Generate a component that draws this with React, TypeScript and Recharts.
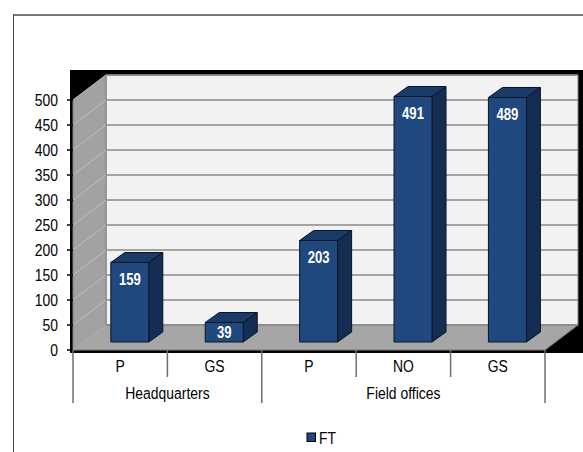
import React from "react";
import {
    BarChart,
    Bar,
    XAxis,
    YAxis,
    ReferenceArea,
    ReferenceLine,
    LabelList,
} from "recharts";

// full-time staff by grade
const grades = ["P", "GS", "P", "NO", "GS"];
const ftStaff = [159, 39, 203, 491, 489];
const locationGroups = [
    { name: "Headquarters", size: 2 },
    { name: "Field offices", size: 3 },
];
const yTicks = [0, 50, 100, 150, 200, 250, 300, 350, 400, 450, 500];
const seriesName = "FT";

const data = grades.map((grade, i) => ({ grade, ft: ftStaff[i] }));

const W = 583;
const H = 452;
const margin = { top: 100, right: 38, bottom: 42, left: 0 };
const Y_AXIS_W = 73;
const X_AXIS_H = 60;

// the back wall sits this far right / up from the axis plane
const DEPTH_X = 33;
const DEPTH_Y = 25;
// bars stand a little way into the box, with their own depth
const BAR_SHIFT_X = 9.5;
const BAR_SHIFT_Y = 8;
const BAR_DX = 14;
const BAR_DY = 10;

const FONT = '"Liberation Sans", Arial, sans-serif';
const NARROW = 0.82;

const BAR_FRONT = "#1f497e";
const BAR_SIDE = "#142d52";
const BAR_TOP = "#1a3b68";

function NarrowText({
                        x,
                        y,
                        children,
                        anchor = "middle",
                        size = 17,
                        bold = false,
                        fill = "#000",
                    }: any) {
    return (
        <text
            transform={`translate(${x},${y}) scale(${NARROW},1)`}
            textAnchor={anchor}
            dy="0.36em"
            fontFamily={FONT}
            fontSize={size}
            fontWeight={bold ? 700 : 400}
            fill={fill}
        >
            {children}
        </text>
    );
}

// black frame, back wall, side wall and floor of the 3d box
function Box3D(props: any) {
    const { x, y, width, height } = props;
    const bx = x + DEPTH_X;
    const by = y - DEPTH_Y;
    const floorY = y + height;
    const backFloorY = by + height;
    return (
        <g>
            <rect
                x={x - 3}
                y={by - 5}
                width={width + DEPTH_X + 8}
                height={height + DEPTH_Y + 8}
                fill="#000"
            />
            <rect x={bx} y={by} width={width} height={height} fill="#f2f2f2" stroke="#7f7f7f" />
            <polygon
                points={`${x},${y} ${bx},${by} ${bx},${backFloorY} ${x},${floorY}`}
                fill="#a2a2a2"
                stroke="#7f7f7f"
            />
            <polygon
                points={`${x},${floorY} ${bx},${backFloorY} ${bx + width},${backFloorY} ${x + width},${floorY}`}
                fill="#a6a6a6"
                stroke="#7f7f7f"
            />
        </g>
    );
}

// one gridline: diagonal across the side wall, then flat along the back wall
function WallGridLine(props: any) {
    const { x1, y1, x2 } = props;
    if (x1 == null || y1 == null) return null;
    return (
        <g>
            <line
                x1={x1}
                y1={y1}
                x2={x1 + DEPTH_X}
                y2={y1 - DEPTH_Y}
                stroke="#bdbdbd"
                strokeWidth={1}
            />
            <line
                x1={x1 + DEPTH_X}
                y1={y1 - DEPTH_Y}
                x2={x2 + DEPTH_X}
                y2={y1 - DEPTH_Y}
                stroke="#8a8a8a"
                strokeWidth={1.5}
            />
        </g>
    );
}

function Bar3D(props: any) {
    const { x, y, width, height } = props;
    if (!height) return null;
    const fx = x + BAR_SHIFT_X;
    const fy = y - BAR_SHIFT_Y;
    const r = fx + width;
    const b = fy + height;
    return (
        <g stroke="#0a1627" strokeWidth={1} strokeLinejoin="round">
            <polygon
                points={`${fx},${fy} ${fx + BAR_DX},${fy - BAR_DY} ${r + BAR_DX},${fy - BAR_DY} ${r},${fy}`}
                fill={BAR_TOP}
            />
            <polygon
                points={`${r},${fy} ${r + BAR_DX},${fy - BAR_DY} ${r + BAR_DX},${b - BAR_DY} ${r},${b}`}
                fill={BAR_SIDE}
            />
            <rect x={fx} y={fy} width={width} height={height} fill={BAR_FRONT} />
        </g>
    );
}

function ValueLabel(props: any) {
    const box = props.viewBox && props.viewBox.width != null ? props.viewBox : props;
    const { x, y, width, height } = box;
    if (x == null) return null;
    const cx = x + BAR_SHIFT_X + width / 2;
    const cy = y - BAR_SHIFT_Y + Math.min(17, Math.abs(height) / 2);
    return (
        <NarrowText x={cx} y={cy} size={16} bold fill="#fff">
            {props.value}
        </NarrowText>
    );
}

function YTick(props: any) {
    const { x, y, payload } = props;
    return (
        <NarrowText x={x} y={y} anchor="end" size={17}>
            {payload.value}
        </NarrowText>
    );
}

// grade label plus a second row with the location group
function CategoryTick(props: any) {
    const { x, y, payload } = props;
    const index = props.index ?? payload.index;
    const plotW = W - margin.right - margin.left - Y_AXIS_W;
    const half = payload.offset > 0 ? payload.offset : plotW / grades.length / 2;
    const left = x - half;

    let start = 0;
    let opens: { name: string; size: number } | null = null;
    for (const g of locationGroups) {
        if (index === start) opens = g;
        start += g.size;
    }
    const isLast = index === grades.length - 1;

    return (
        <g>
            <line
                x1={left}
                y1={y}
                x2={left}
                y2={opens ? y + 53 : y + 27}
                stroke="#6f6f6f"
                strokeWidth={1.5}
            />
            {isLast ? (
                <line
                    x1={x + half}
                    y1={y}
                    x2={x + half}
                    y2={y + 53}
                    stroke="#6f6f6f"
                    strokeWidth={1.5}
                />
            ) : null}
            <NarrowText x={x} y={y + 15.5} size={17}>
                {payload.value}
            </NarrowText>
            {opens ? (
                <NarrowText x={left + opens.size * half} y={y + 42.5} size={17}>
                    {opens.name}
                </NarrowText>
            ) : null}
        </g>
    );
}

export default function App() {
    const layer: React.CSSProperties = { position: "absolute", left: 0, top: 0 };
    return (
        <div
            style={{
                position: "absolute",
                left: 0,
                top: 0,
                width: W,
                height: H,
                background: "#fff",
                overflow: "hidden",
            }}
        >
            <svg width={W} height={H} style={layer}>
                <line x1={13} y1={15} x2={W} y2={15} stroke="#777" strokeWidth={2} />
                <line x1={13.5} y1={15} x2={13.5} y2={H} stroke="#444" strokeWidth={1} />
            </svg>

            {/* walls and gridlines */}
            <div style={layer}>
                <BarChart width={W} height={H} data={data} margin={margin}>
                    <XAxis
                        dataKey="grade"
                        height={X_AXIS_H}
                        tick={false}
                        axisLine={false}
                        tickLine={false}
                    />
                    <YAxis
                        type="number"
                        domain={[0, 500]}
                        ticks={yTicks}
                        allowDataOverflow
                        width={Y_AXIS_W}
                        tick={false}
                        axisLine={false}
                        tickLine={false}
                    />
                    <ReferenceArea y1={0} y2={500} shape={Box3D} fillOpacity={1} />
                    {yTicks.map((v) => (
                        <ReferenceLine key={v} y={v} shape={WallGridLine} />
                    ))}
                </BarChart>
            </div>

            {/* bars, labels and axes */}
            <div style={layer}>
                <BarChart
                    width={W}
                    height={H}
                    data={data}
                    margin={margin}
                    barCategoryGap="30%"
                >
                    <XAxis
                        dataKey="grade"
                        height={X_AXIS_H}
                        interval={0}
                        axisLine={false}
                        tickLine={false}
                        tickSize={0}
                        tickMargin={0}
                        tick={<CategoryTick />}
                    />
                    <YAxis
                        type="number"
                        domain={[0, 500]}
                        ticks={yTicks}
                        width={Y_AXIS_W}
                        axisLine={false}
                        tickLine={{ stroke: "#000", strokeWidth: 1.5 }}
                        tickSize={6}
                        tickMargin={9}
                        tick={<YTick />}
                    />
                    <Bar dataKey="ft" name={seriesName} shape={Bar3D} isAnimationActive={false}>
                        <LabelList dataKey="ft" content={ValueLabel} />
                    </Bar>
                </BarChart>
            </div>

            <svg width={W} height={H} style={{ ...layer, pointerEvents: "none" }}>
                <rect x={307} y={433} width={8.5} height={8.5} fill={BAR_FRONT} stroke="#000" />
                <NarrowText x={319} y={437.5} anchor="start" size={17}>
                    {seriesName}
                </NarrowText>
            </svg>
        </div>
    );
}
